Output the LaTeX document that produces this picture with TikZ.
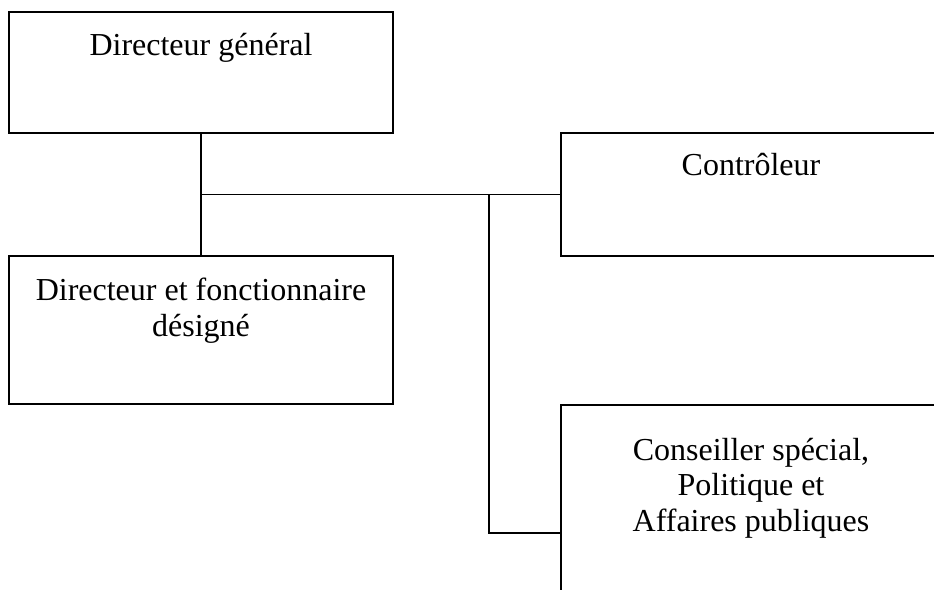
\documentclass[tikz,border=0pt]{standalone}
\usepackage{fontspec}
\setmainfont{Liberation Serif}
\begin{document}
\begin{tikzpicture}[x=1pt,y=-1pt,
  box/.style={draw, line width=1.5pt, rectangle, inner sep=0pt},
  lbl/.style={anchor=north, align=center, inner sep=0pt, font=\fontsize{32}{35.5}\selectfont},
  link/.style={line width=1.5pt}]
\useasboundingbox (0,0) rectangle (934,589);
\clip (0,0) rectangle (934,589);
% boxes
\node[box, minimum width=384pt, minimum height=121pt] (dg) at (201,72.5) {};
\node[box, minimum width=380pt, minimum height=123pt] (ctrl) at (751,194.5) {};
\node[box, minimum width=384pt, minimum height=148pt] (df) at (201,330) {};
\node[box, minimum width=380pt, minimum height=214pt] (cs) at (751,512) {};
% labels
\node[lbl] (tdg) at (201,33) {Directeur général};
\node[lbl] (tctrl) at (751,153) {Contrôleur};
\node[lbl] (tdf) at (201,278) {Directeur et fonctionnaire\\désigné};
\node[lbl] (tcs) at (751,438) {Conseiller spécial,\\Politique et\\Affaires publiques};
% connectors
\coordinate (j1) at (201,194.5);
\coordinate (j2) at (489,194.5);
\coordinate (csin) at (561,533);
\draw[link] (dg.south) -- (df.north);
\draw[link] (j1) -- (ctrl.west);
\draw[link] (j2) |- (csin);
\end{tikzpicture}
\end{document}
